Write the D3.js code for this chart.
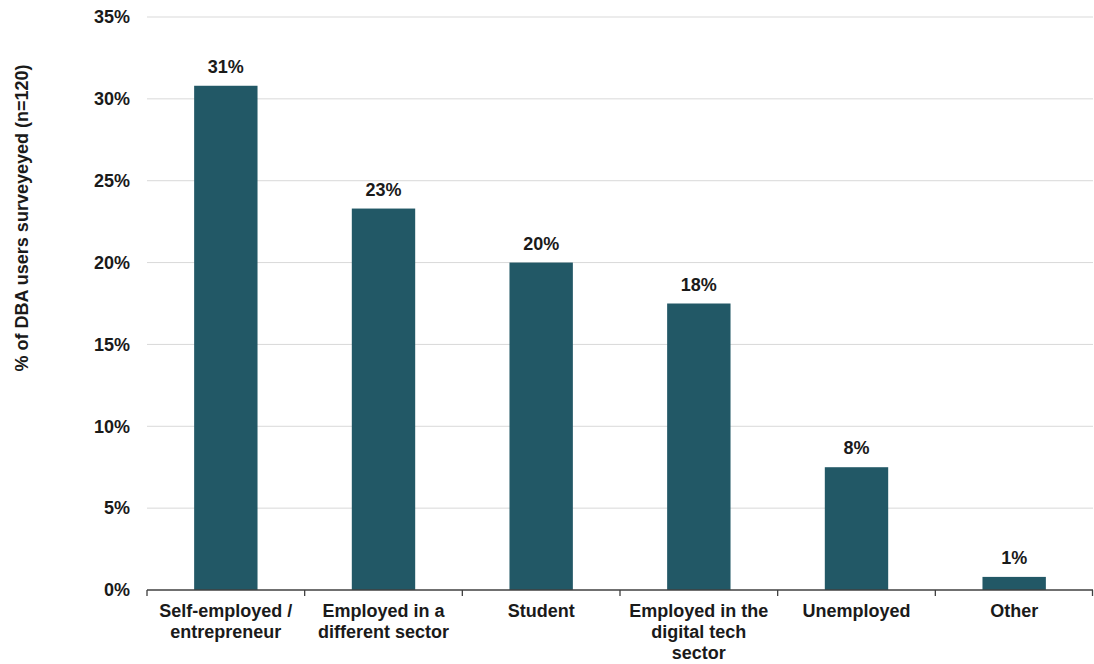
<!DOCTYPE html>
<html lang="en">
  <head>
    <meta charset="utf-8">
    <title>DBA users</title>
    <script src="https://d3js.org/d3.v7.min.js"></script>
    <style>
      body { margin: 0; background: #fff; overflow: hidden; }
      svg { display: block; }
      text { font-family: "Liberation Sans", Arial, sans-serif; font-weight: bold; fill: #1a1a1a; }
    </style>
  </head>
  <body>
    <div class="chart"></div>
    <script>
      // values (share of 120 respondents)
      const categories = ['Self-employed /\nentrepreneur', 'Employed in a\ndifferent sector', 'Student',
                          'Employed in the\ndigital tech\nsector', 'Unemployed', 'Other'];
      const values = [30.8, 23.3, 20.0, 17.5, 7.5, 0.8];
      const valueLabels = ['31%', '23%', '20%', '18%', '8%', '1%'];
      const yTicks = [0, 5, 10, 15, 20, 25, 30, 35];
      const yTitle = '% of DBA users surveyeyed (n=120)';

      const width = 1094, height = 664;
      const margin = {top: 17, right: 1, bottom: 74, left: 147};
      const innerWidth = width - margin.left - margin.right;
      const innerHeight = height - margin.top - margin.bottom;

      const svg = d3.select('.chart').append('svg')
          .attr('width', width)
          .attr('height', height);

      const g = svg.append('g')
          .attr('transform', `translate(${margin.left},${margin.top})`);

      const xScale = d3.scaleBand()
          .domain(categories)
          .range([0, innerWidth])
          .paddingInner(0.598)
          .paddingOuter(0.299);

      const yScale = d3.scaleLinear()
          .domain([0, 35])
          .range([innerHeight, 0]);

      // gridlines
      g.selectAll('.grid')
          .data(yTicks.filter(d => d > 0))
          .enter().append('line')
          .attr('x1', 0).attr('x2', innerWidth)
          .attr('y1', d => yScale(d)).attr('y2', d => yScale(d))
          .attr('stroke', '#d9d9d9')
          .attr('stroke-width', 1);

      // y axis labels
      const yAxis = d3.axisLeft(yScale)
          .tickValues(yTicks)
          .tickFormat(d => d + '%')
          .tickSize(0)
          .tickPadding(17);
      const yG = g.append('g').call(yAxis);
      yG.select('.domain').remove();
      yG.selectAll('text')
          .style('font-size', '18px')
          .attr('fill', '#1a1a1a');

      // bars
      g.selectAll('.bar')
          .data(values)
          .enter().append('rect')
          .attr('x', (d, i) => xScale(categories[i]))
          .attr('y', d => yScale(d))
          .attr('width', xScale.bandwidth())
          .attr('height', d => innerHeight - yScale(d))
          .attr('fill', '#225866');

      // value labels
      g.selectAll('.val')
          .data(values)
          .enter().append('text')
          .attr('x', (d, i) => xScale(categories[i]) + xScale.bandwidth() / 2)
          .attr('y', d => yScale(d) - 13)
          .attr('text-anchor', 'middle')
          .style('font-size', '18px')
          .text((d, i) => valueLabels[i]);

      // x axis line with ticks between categories
      const step = xScale.step();
      const xAxisG = g.append('g').attr('transform', `translate(0,${innerHeight})`);
      xAxisG.append('line')
          .attr('x1', 0).attr('x2', innerWidth)
          .attr('y1', 0).attr('y2', 0)
          .attr('stroke', '#404040')
          .attr('stroke-width', 1.3);
      xAxisG.selectAll('.tick')
          .data(d3.range(categories.length + 1))
          .enter().append('line')
          .attr('x1', i => Math.min(i * step, innerWidth - 0.5))
          .attr('x2', i => Math.min(i * step, innerWidth - 0.5))
          .attr('y1', 0).attr('y2', 6)
          .attr('stroke', '#404040')
          .attr('stroke-width', 1.3);

      // category labels, wrapped
      const catText = xAxisG.selectAll('.cat')
          .data(categories)
          .enter().append('text')
          .attr('x', d => xScale(d) + xScale.bandwidth() / 2)
          .attr('y', 27)
          .attr('text-anchor', 'middle')
          .style('font-size', '18px');
      catText.selectAll('tspan')
          .data(d => d.split('\n'))
          .enter().append('tspan')
          .attr('x', function() { return this.parentNode.getAttribute('x'); })
          .attr('dy', (d, i) => i === 0 ? 0 : 21)
          .text(d => d);

      // y title
      svg.append('text')
          .attr('transform', 'translate(28,218) rotate(-90)')
          .attr('text-anchor', 'middle')
          .style('font-size', '18px')
          .text(yTitle);
    </script>
  </body>
</html>
